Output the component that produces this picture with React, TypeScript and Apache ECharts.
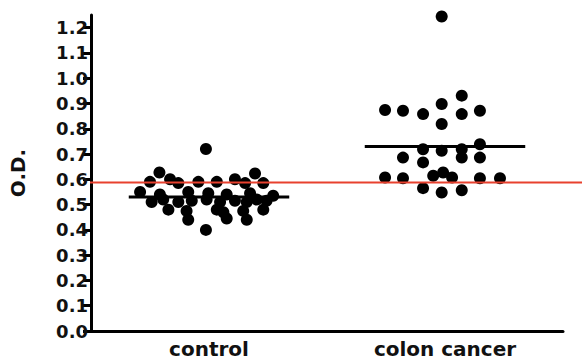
import React, { useEffect, useRef } from "react";
import * as echarts from "echarts";

const categories = ["control", "colon cancer"];
const yTicks = [0, 0.1, 0.2, 0.3, 0.4, 0.5, 0.6, 0.7, 0.8, 0.9, 1.0, 1.1, 1.2];

const controlValues = [
  0.72, 0.627, 0.623,
  0.59, 0.6, 0.585, 0.59, 0.59, 0.6, 0.585, 0.585,
  0.55, 0.54, 0.55, 0.545, 0.54, 0.545, 0.535,
  0.51, 0.52, 0.51, 0.515, 0.52, 0.51, 0.515, 0.51, 0.52, 0.515,
  0.48, 0.475, 0.48, 0.47, 0.475, 0.48,
  0.44, 0.445, 0.44,
  0.4,
];
const controlJitter = [
  -0.013, -0.21, 0.195,
  -0.25, -0.165, -0.13, -0.045, 0.033, 0.11, 0.153, 0.23,
  -0.292, -0.208, -0.088, -0.003, 0.075, 0.174, 0.272,
  -0.243, -0.194, -0.13, -0.073, -0.01, 0.047, 0.11, 0.16, 0.202, 0.244,
  -0.172, -0.095, 0.033, 0.061, 0.145, 0.23,
  -0.088, 0.075, 0.16,
  -0.013,
];

const cancerValues = [
  1.244,
  0.874, 0.871, 0.858, 0.898, 0.931, 0.858, 0.871,
  0.819,
  0.719, 0.713, 0.719, 0.739,
  0.686, 0.667, 0.686, 0.686,
  0.607, 0.604, 0.614, 0.627, 0.607, 0.604, 0.604,
  0.565, 0.548, 0.557,
];
const cancerJitter = [
  -0.014,
  -0.254, -0.178, -0.093, -0.014, 0.071, 0.071, 0.148,
  -0.014,
  -0.093, -0.014, 0.071, 0.148,
  -0.178, -0.093, 0.071, 0.148,
  -0.254, -0.178, -0.05, -0.008, 0.03, 0.148, 0.233,
  -0.093, -0.014, 0.071,
];

const groupMeans = [0.53, 0.73];
const meanHalfWidth = 0.34;
const cutoff = 0.587;

export default function App() {
  const ref = useRef<HTMLDivElement>(null);
  useEffect(() => {
    if (!ref.current) return;
    const chart = echarts.init(ref.current, null, { renderer: "svg" });
    const font = "DejaVu Sans";
    const pts = (vals: number[], jit: number[], c: number) =>
      vals.map((v, i) => [c + jit[i], v]);
    chart.setOption({
      animation: false,
      backgroundColor: "#ffffff",
      grid: [
        { left: 90, right: 19, top: 15, bottom: 32 },
        { left: 90, right: 0, top: 15, bottom: 32 },
      ],
      xAxis: [
        {
          type: "category",
          gridIndex: 0,
          data: categories,
          boundaryGap: true,
          axisLine: { lineStyle: { color: "#000", width: 3 } },
          axisTick: { alignWithLabel: true, length: 7, lineStyle: { color: "#000", width: 3 } },
          axisLabel: {
            color: "#111",
            fontFamily: font,
            fontWeight: "bold",
            fontSize: 20,
            lineHeight: 20,
            margin: 8,
          },
        },
        { type: "value", gridIndex: 0, min: -0.5, max: 1.5, show: false },
        { type: "value", gridIndex: 1, min: 0, max: 1, show: false },
      ],
      yAxis: [
        {
          type: "value",
          gridIndex: 0,
          min: 0,
          max: 1.25,
          name: "O.D.",
          nameLocation: "middle",
          nameGap: 63,
          nameTextStyle: { color: "#111", fontFamily: font, fontWeight: "bold", fontSize: 20 },
          splitLine: { show: false },
          axisLine: { show: true, onZero: false, lineStyle: { color: "#000", width: 3 } },
          axisTick: { show: true, length: 8, customValues: yTicks, lineStyle: { color: "#000", width: 3 } },
          axisLabel: {
            color: "#111",
            fontFamily: font,
            fontWeight: "bold",
            fontSize: 18,
            margin: 3,
            customValues: yTicks,
            formatter: (v: number) => v.toFixed(1),
          },
        },
        { type: "value", gridIndex: 1, min: 0, max: 1.25, show: false },
      ],
      series: [
        {
          type: "line",
          xAxisIndex: 1,
          yAxisIndex: 0,
          data: [
            [0 - meanHalfWidth, groupMeans[0]],
            [0 + meanHalfWidth, groupMeans[0]],
          ],
          symbol: "none",
          lineStyle: { color: "#000", width: 3 },
          z: 2,
        },
        {
          type: "line",
          xAxisIndex: 1,
          yAxisIndex: 0,
          data: [
            [1 - meanHalfWidth, groupMeans[1]],
            [1 + meanHalfWidth, groupMeans[1]],
          ],
          symbol: "none",
          lineStyle: { color: "#000", width: 3 },
          z: 2,
        },
        {
          type: "scatter",
          xAxisIndex: 1,
          yAxisIndex: 0,
          data: pts(controlValues, controlJitter, 0),
          symbolSize: 12,
          itemStyle: { color: "#000", opacity: 1 },
          z: 3,
        },
        {
          type: "scatter",
          xAxisIndex: 1,
          yAxisIndex: 0,
          data: pts(cancerValues, cancerJitter, 1),
          symbolSize: 12,
          itemStyle: { color: "#000", opacity: 1 },
          z: 3,
        },
        {
          type: "line",
          xAxisIndex: 2,
          yAxisIndex: 1,
          data: [
            [0, cutoff],
            [1, cutoff],
          ],
          symbol: "none",
          lineStyle: { color: "#e8412e", width: 2 },
          z: 5,
        },
      ],
    });
    return () => chart.dispose();
  }, []);
  return (
    <div
      ref={ref}
      style={{ position: "fixed", left: 0, top: 0, width: 582, height: 363 }}
    />
  );
}
